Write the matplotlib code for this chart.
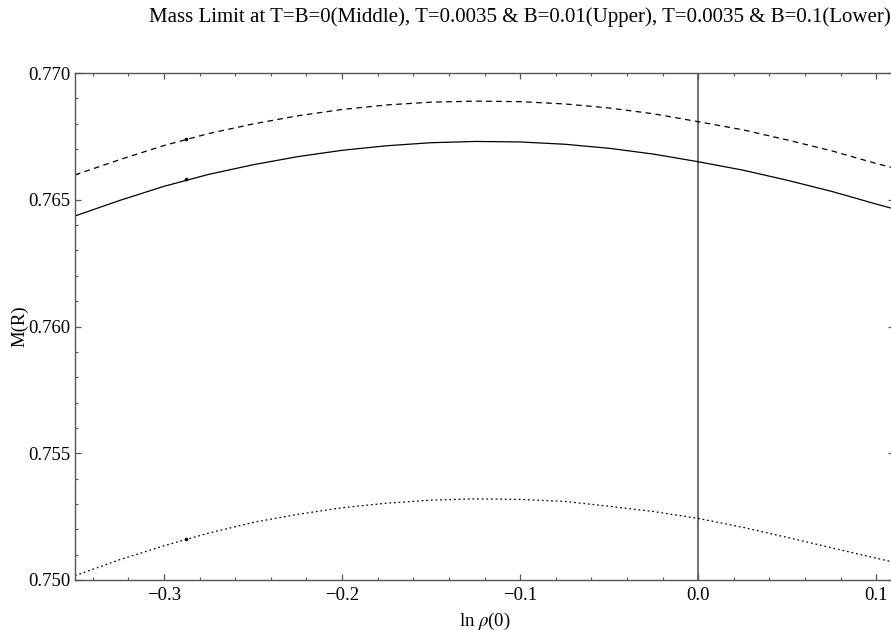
import matplotlib
matplotlib.use("Agg")
import matplotlib.pyplot as plt
from matplotlib.ticker import MultipleLocator, FuncFormatter

# Data
ln_rho = [-0.35, -0.325, -0.30, -0.275, -0.25, -0.225, -0.20, -0.175, -0.15, -0.125,
          -0.10, -0.075, -0.05, -0.025, 0.00, 0.025, 0.05, 0.075, 0.10, 0.11]
m_middle = [0.76436, 0.76497, 0.76553, 0.76600, 0.76638, 0.76670, 0.76695, 0.76713, 0.76725, 0.76730,
            0.76728, 0.76719, 0.76703, 0.76680, 0.76650, 0.76617, 0.76577, 0.76533, 0.76483, 0.76464]
m_upper = [0.76598, 0.76658, 0.76714, 0.76761, 0.76799, 0.76831, 0.76856, 0.76874, 0.76885, 0.76889,
           0.76887, 0.76878, 0.76862, 0.76839, 0.76808, 0.76776, 0.76736, 0.76693, 0.76643, 0.76625]
m_lower = [0.75017, 0.75080, 0.75135, 0.75185, 0.75227, 0.75259, 0.75285, 0.75303, 0.75315, 0.75320,
           0.75318, 0.75310, 0.75291, 0.75270, 0.75243, 0.75208, 0.75168, 0.75127, 0.75086, 0.75070]

marker_x = [-0.2876, -0.2876, -0.2876]
marker_y = [0.76582, 0.76740, 0.75162]

title = "Mass Limit at T=B=0(Middle), T=0.0035 & B=0.01(Upper), T=0.0035 & B=0.1(Lower)"

plt.rcParams['font.family'] = ['Liberation Serif', 'DejaVu Serif']
plt.rcParams['mathtext.fontset'] = 'stix'

fig = plt.figure(figsize=(8.91, 6.30), dpi=100)
ax = fig.add_axes([75/891, 1 - 580/630, (894 - 75)/891, (580 - 73)/630])

ax.plot(ln_rho, m_middle, color='black', lw=0.9, ls='-')
ax.plot(ln_rho, m_upper, color='black', lw=0.9, ls=(0, (4.5, 3.5)))
ax.plot(ln_rho, m_lower, color='black', lw=0.9, ls=(0, (1.4, 2.3)))
ax.plot(marker_x, marker_y, 'o', color='black', ms=2.6, mec='none')

ax.axvline(0.0, color='#707070', lw=1.4, zorder=0)

ax.set_xlim(-0.35, 0.11)
ax.set_ylim(0.750, 0.770)

ax.xaxis.set_major_locator(MultipleLocator(0.1))
ax.xaxis.set_minor_locator(MultipleLocator(0.02))
ax.yaxis.set_major_locator(MultipleLocator(0.005))
ax.yaxis.set_minor_locator(MultipleLocator(0.001))
ax.xaxis.set_major_formatter(FuncFormatter(lambda v, p: f"{v:.1f}".replace('-', '\u2212') if abs(v) > 1e-9 else "0.0"))
ax.yaxis.set_major_formatter(FuncFormatter(lambda v, p: f"{v:.3f}"))

for s in ax.spines.values():
    s.set_color('#555555')
    s.set_linewidth(1.0)

ax.tick_params(which='both', direction='in', top=True, right=True, colors='#555555',
               labelcolor='black', labelsize=13.5)
ax.tick_params(which='major', length=4.5, width=0.9)
ax.tick_params(which='minor', length=2.5, width=0.8)
ax.tick_params(axis='x', which='major', pad=5)
ax.tick_params(axis='y', which='major', pad=3)

ax.set_xlabel(r"ln $\rho$(0)", fontsize=13.5)
ax.xaxis.set_label_coords(0.5, -0.06)
ax.set_ylabel("M(R)", fontsize=13.5)
ax.yaxis.set_label_coords(-0.057, 0.5)

fig.text(520/891, 1 - 17/630, title, ha='center', va='center', fontsize=15)

fig.savefig("out.png", dpi=100)
